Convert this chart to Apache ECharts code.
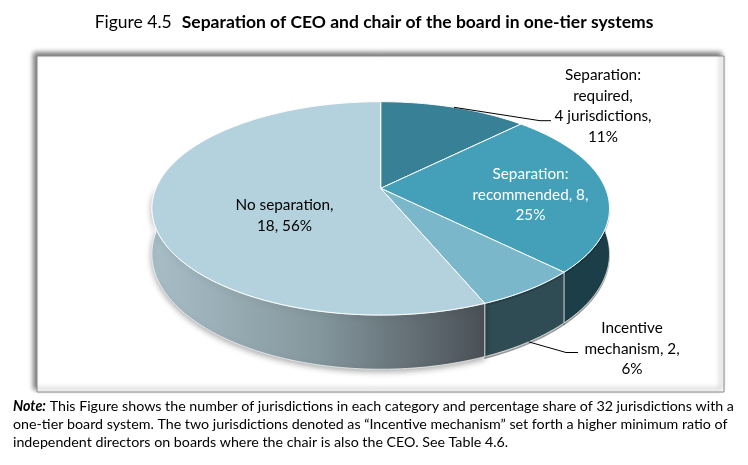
<!DOCTYPE html>
<html>
<head>
<meta charset="utf-8">
<script src="https://cdn.jsdelivr.net/npm/echarts@6/dist/echarts.min.js"></script>
<style>
  html, body { margin: 0; padding: 0; background: #fff; }
  #chart { width: 748px; height: 465px; }
</style>
</head>
<body>
<div id="chart"></div>
<script>
/* data */
const names = ['Separation: required', 'Separation: recommended', 'Incentive mechanism', 'No separation'];
const counts = [4, 8, 2, 18];
const percents = ['11%', '25%', '6%', '56%'];
const labelTexts = [
  'Separation:\nrequired,\n4 jurisdictions,\n' + percents[0],
  'Separation:\nrecommended, ' + counts[1] + ',\n' + percents[1],
  'Incentive\nmechanism, ' + counts[2] + ',\n' + percents[2],
  'No separation,\n' + counts[3] + ', ' + percents[3]
];
const noteLines = [
  '{i|Note:} This Figure shows the number of jurisdictions in each category and percentage share of 32 jurisdictions with a',
  'one-tier board system. The two jurisdictions denoted as \u201cIncentive mechanism\u201d set forth a higher minimum ratio of',
  'independent directors on boards where the chair is also the CEO. See Table 4.6.'
];

/* colours */
const topColors = ['#378096', '#44a0b8', '#7ab7cb', '#b4d2dd'];
const sideColors = ['#24566a', '#1c3e48', '#2f4b53', {
  type: 'linear', x: 152, y: 0, x2: 484, y2: 0, global: true,
  colorStops: [{ offset: 0, color: '#a8bec7' }, { offset: 0.5, color: '#84979d' }, { offset: 1, color: '#4a5157' }]
}];
const labelColors = ['#000', '#fff', '#000', '#000'];

/* label layout: centre of first line; leader line bends (null = inside label) */
const labelPos = [[603, 75], [530.5, 174], [632, 328], [284.5, 205]];
const leaderBends = [[[540, 120.7], [551, 120.7]], null, [[566, 352.5], [578, 352.5]], null];
const leaderOnSide = [false, false, true, false];

const FONT = 'Lato, "Open Sans", sans-serif';
const LABEL_SIZE = 15.3, LINE_H = 20.7;
const NOTE_SIZE = 14.25;

/* 3d pie projection (perspective view) */
const CX = 380.7, CY = 188.3, RX = 224.7, RY = 102.9, K = 0.188, DEPTH = 44;
const total = counts.reduce((a, b) => a + b, 0);

function proj(t, drop) {
  const u = Math.sin(t), v = -Math.cos(t), w = 1 - K * v;
  return [CX + RX * u / w, CY + RY * v / w + (drop ? DEPTH / w : 0)];
}
function arc(a0, a1, drop) {
  const n = Math.max(2, Math.ceil((a1 - a0) / (Math.PI / 180)));
  const pts = [];
  for (let s = 0; s <= n; s++) pts.push(proj(a0 + (a1 - a0) * s / n, drop));
  return pts;
}

function renderSlice(params, api) {
  const i = params.dataIndex;
  let before = 0;
  for (let j = 0; j < i; j++) before += counts[j];
  const a0 = before / total * Math.PI * 2;
  const a1 = (before + api.value(0)) / total * Math.PI * 2;
  const children = [];

  // side wall, front half only
  const s0 = Math.max(a0, Math.PI / 2), s1 = Math.min(a1, Math.PI * 1.5);
  if (s1 > s0) {
    const pts = arc(s0, s1, false).concat(arc(s0, s1, true).reverse());
    children.push({
      type: 'polygon',
      shape: { points: pts },
      style: {
        fill: sideColors[i], stroke: 'rgba(255,255,255,0.85)', lineWidth: 0.8,
        shadowBlur: i === 3 ? 6 : 0, shadowColor: 'rgba(0,0,0,0.35)', shadowOffsetY: 2
      }
    });
  }
  // top face
  children.push({
    type: 'polygon',
    shape: { points: [[CX, CY]].concat(arc(a0, a1, false)) },
    style: { fill: topColors[i], stroke: '#fff', lineWidth: 1 }
  });
  // leader line
  if (leaderBends[i]) {
    const mid = (a0 + a1) / 2;
    children.push({
      type: 'polyline',
      shape: { points: [proj(mid, leaderOnSide[i])].concat(leaderBends[i]) },
      style: { stroke: '#000', lineWidth: 1, fill: null }
    });
  }
  // label
  children.push({
    type: 'text',
    style: {
      text: labelTexts[i],
      x: labelPos[i][0], y: labelPos[i][1] - LINE_H / 2,
      align: 'center', verticalAlign: 'top',
      fill: labelColors[i], fontSize: LABEL_SIZE, fontFamily: FONT, lineHeight: LINE_H
    }
  });
  return { type: 'group', children: children };
}

const chart = echarts.init(document.getElementById('chart'));
chart.setOption({
  animation: false,
  title: {
    text: '{a|Figure 4.5}  {b|Separation of CEO and chair of the board in one-tier systems}',
    left: 'center',
    top: 8,
    textStyle: {
      fontWeight: 'normal',
      rich: {
        a: { fontFamily: FONT, fontSize: 17.5, fontWeight: 'normal', color: '#000' },
        b: { fontFamily: FONT, fontSize: 17.5, fontWeight: 'bold', color: '#000' }
      }
    }
  },
  graphic: [
    {
      type: 'rect', z: 0,
      shape: { x: 37, y: 56, width: 687, height: 336 },
      style: {
        fill: '#fff', stroke: '#8a8a8a', lineWidth: 1,
        shadowBlur: 5, shadowColor: 'rgba(0,0,0,0.55)', shadowOffsetX: -3, shadowOffsetY: -3
      }
    }
  ].concat(noteLines.map((t, k) => ({
    type: 'text', z: 1,
    style: {
      text: t, x: 13, y: 406 + k * 18.3,
      verticalAlign: 'middle', fill: '#000',
      fontFamily: FONT, fontSize: NOTE_SIZE,
      rich: { i: { fontStyle: 'italic', fontWeight: 'bold', fontFamily: FONT, fontSize: NOTE_SIZE } }
    }
  }))),
  series: [{
    type: 'custom',
    coordinateSystem: 'none',
    z: 2,
    renderItem: renderSlice,
    data: counts.map((c, i) => ({ name: names[i], value: [c] }))
  }]
});
</script>
</body>
</html>
